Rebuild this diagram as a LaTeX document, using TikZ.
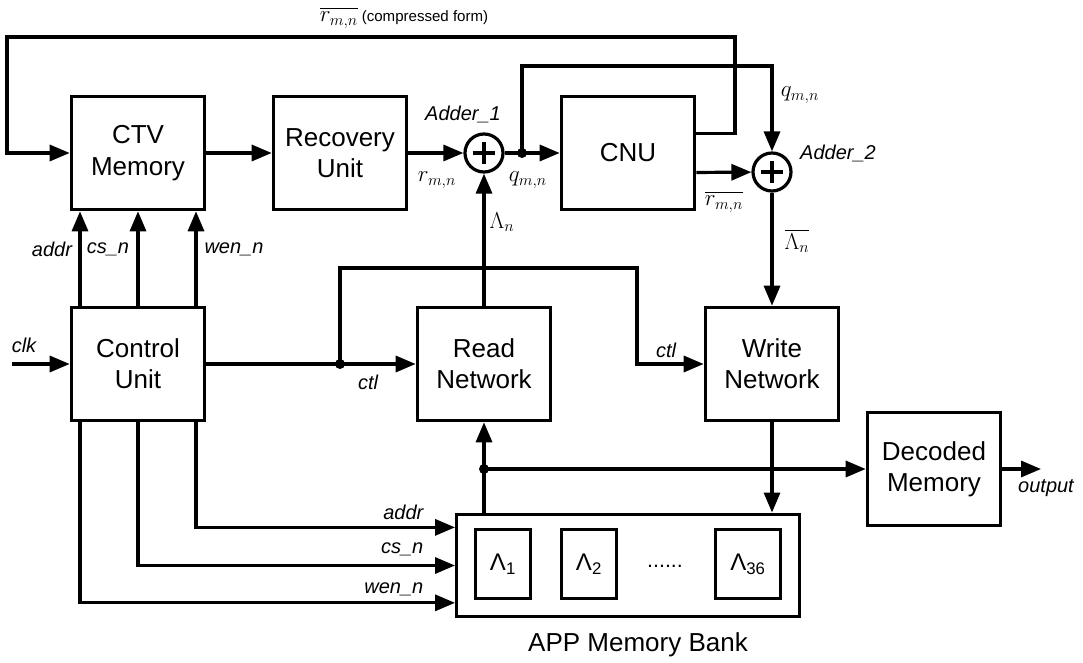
\documentclass[tikz,border=0pt]{standalone}
\usepackage[no-math]{fontspec}
\setmainfont{Liberation Sans}
\usepackage{amsmath}
\usetikzlibrary{positioning,arrows.meta}

\begin{document}
\begin{tikzpicture}[x=0.75pt, y=-0.75pt,
    box/.style={draw, line width=2.4pt, minimum width=100pt, minimum height=85pt, align=center, font=\fontsize{19.5}{23.5}\selectfont},
    cell/.style={draw, line width=2.4pt, minimum width=41pt, minimum height=52pt, font=\fontsize{18}{21}\selectfont},
    adder/.style={draw, circle, line width=2.4pt, minimum size=28.5pt, inner sep=0pt,
        path picture={\draw[line width=2.8pt]
            ([xshift=-8.5pt]path picture bounding box.center) -- ([xshift=8.5pt]path picture bounding box.center)
            ([yshift=-8.5pt]path picture bounding box.center) -- ([yshift=8.5pt]path picture bounding box.center);}},
    junc/.style={circle, fill, inner sep=0pt, minimum size=7.5pt},
    arr/.style={line width=2.4pt, -{Triangle[length=15pt,width=12pt]}},
    sig/.style={font=\fontsize{15}{18}\selectfont\itshape},
    var/.style={font=\fontsize{17}{20}\selectfont}]

    \useasboundingbox (0,0) rectangle (1083,663);

    % blocks
    \node[box] (ctv) at (138,153) {CTV\\Memory};
    \node[box] (rec) at (340,153) {Recovery\\Unit};
    \node[box] (cnu) at (628,153) {CNU};
    \node[adder] (add1) at (484,153) {};
    \node[adder] (add2) at (772,172) {};
    \node[box] (cu) at (138,364) {Control\\Unit};
    \node[box] (rn) at (484,364) {Read\\Network};
    \node[box] (wn) at (772,364) {Write\\Network};
    \node[box] (dm) at (934,469) {Decoded\\Memory};
    \node[draw, line width=2.4pt, minimum width=257pt, minimum height=77pt] (app) at (628,565.5) {};
    \node[cell] (l1) at (503,564) {Λ\textsubscript{1}};
    \node[cell] (l2) at (589,564) {Λ\textsubscript{2}};
    \node[cell, minimum width=49pt] (l36) at (748,564) {Λ\textsubscript{36}};
    \node[font=\fontsize{16}{18}\selectfont] (ldots) at (665,566) {......};
    \node[font=\fontsize{19.5}{23}\selectfont] (appl) at (638,645) {APP Memory Bank};

    \coordinate (j1) at (522,153);
    \coordinate (j2) at (340,364);
    \coordinate (j3) at (484,469);
    \coordinate (fbR) at (735,37);
    \coordinate (fbL) at (7,37);
    \coordinate (qtop) at (772,66);
    \coordinate (ctlR) at (637,268);
    \coordinate (clkin) at (12,364);
    \coordinate (out) at (1041,469);

    % data path
    \draw[arr] ([yshift=14.6pt]cnu.east) -| (fbR) -- (fbL) |- (ctv.west);
    \draw[arr] (ctv) -- (rec);
    \draw[arr] (rec) -- (add1);
    \draw[arr] (add1) -- (cnu);
    \draw[arr] (j1) |- (qtop) -- (add2);
    \draw[arr] ([yshift=-14.6pt]cnu.east) -- (add2);
    \draw[arr] (add2) -- (wn);
    \draw[arr] (rn) -- (add1);

    % control
    \draw[arr] ([xshift=-43.5pt]cu.north) -- ([xshift=-43.5pt]ctv.south);
    \draw[arr] (cu.north) -- (ctv.south);
    \draw[arr] ([xshift=43.5pt]cu.north) -- ([xshift=43.5pt]ctv.south);
    \draw[arr] (clkin) -- (cu);
    \draw[arr] (cu) -- (rn);
    \draw[arr] (j2) |- (ctlR) |- (wn);
    \draw[arr] ([xshift=43.5pt]cu.south) |- ([yshift=28.6pt]app.west);
    \draw[arr] (cu.south) |- (app.west);
    \draw[arr] ([xshift=-43.5pt]cu.south) |- ([yshift=-28pt]app.west);

    % memory
    \draw[arr] (rn |- app.north) -- (rn);
    \draw[arr] (j3) -- (dm);
    \draw[arr] (wn) -- (wn |- app.north);
    \draw[arr] (dm) -- (out);

    \node[junc] at (j1) {};
    \node[junc] at (j2) {};
    \node[junc] at (j3) {};

    % labels
    \node[var] (fbl) at (404,18) {$\overline{r_{m,n}}$\,{\fontsize{11.3}{13}\selectfont(compressed form)}};
    \node[sig] (a1l) at (463,114) {Adder\_1};
    \node[sig] (a2l) at (838,153) {Adder\_2};
    \node[var] (rl) at (437,180) {$r_{m,n}$};
    \node[var] (ql) at (528,180) {$q_{m,n}$};
    \node[var] (q2l) at (800,95) {$q_{m,n}$};
    \node[var] (rbl) at (724,202) {$\overline{r_{m,n}}$};
    \node[var] (lnl) at (502,222) {$\Lambda_n$};
    \node[var] (lnbl) at (797,241) {$\overline{\Lambda_n}$};
    \node[sig] at (52,249) {addr};
    \node[sig] at (108,249) {cs\_n};
    \node[sig] at (234,249) {wen\_n};
    \node[sig] at (24,345) {clk};
    \node[sig] at (368,382) {ctl};
    \node[sig] at (666,350) {ctl};
    \node[sig, anchor=east] at (428,512) {addr};
    \node[sig, anchor=east] at (428,549) {cs\_n};
    \node[sig, anchor=east] at (428,589) {wen\_n};
    \node[sig] at (1046,488) {output};
\end{tikzpicture}
\end{document}
